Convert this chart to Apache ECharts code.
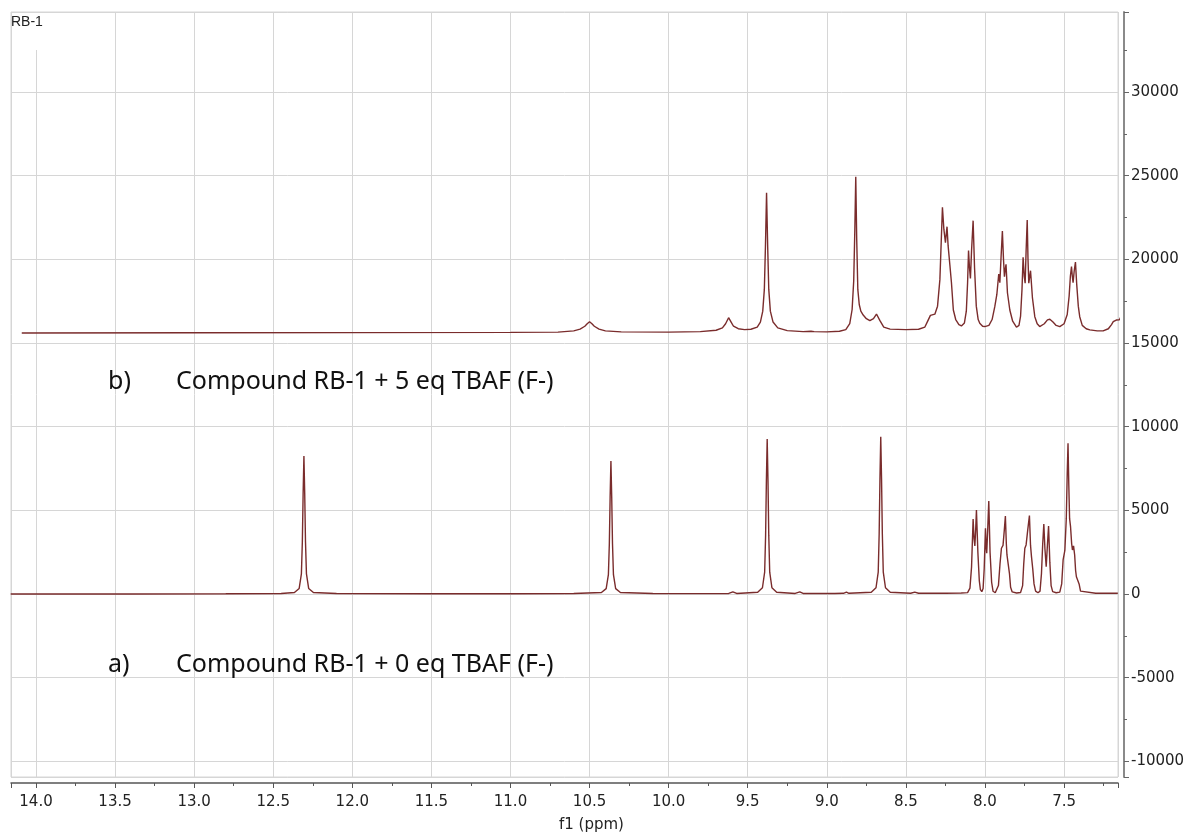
<!DOCTYPE html>
<html>
<head>
<meta charset="utf-8">
<script src="https://cdn.jsdelivr.net/npm/echarts@6/dist/echarts.min.js"></script>
<style>
html,body{margin:0;padding:0;background:#fff;}
#chart{width:1186px;height:834px;}
</style>
</head>
<body>
<div id="chart"></div>
<script>
// ---- data ----
const plotTitle = 'RB-1';
const xAxisName = 'f1 (ppm)';
const labelB = ['b)', 'Compound RB-1 + 5 eq TBAF (F-)'];
const labelA = ['a)', 'Compound RB-1 + 0 eq TBAF (F-)'];
const xRange = [7.159, 14.158];
const yRange = [-10940, 34780];

// spectrum a) : [ppm, intensity]
const spectrumA = [
  [14.16,0],[13.4,0],[12.8,10],[12.45,30],[12.366,90],[12.336,330],[12.322,1200],[12.316,3100],[12.311,6000],[12.306,8250],
  [12.301,6000],[12.296,3100],[12.290,1200],[12.276,330],[12.246,90],[12.1,25],[11.5,10],[11.0,10],[10.6,25],
  [10.425,90],[10.395,320],[10.381,1150],[10.375,3000],[10.370,5800],[10.365,7950],[10.360,5800],[10.355,3000],
  [10.349,1150],[10.335,320],[10.305,90],[10.1,25],[9.8,20],[9.62,30],[9.594,130],[9.57,30],
  [9.437,100],[9.407,370],[9.393,1300],[9.387,3500],[9.382,6800],[9.377,9260],[9.372,6800],[9.367,3500],
  [9.361,1300],[9.347,370],[9.317,100],[9.2,30],[9.171,120],[9.15,30],[8.95,30],[8.895,40],[8.876,110],[8.86,40],
  [8.719,100],[8.689,370],[8.675,1300],[8.669,3600],[8.664,6900],[8.659,9400],[8.654,6900],[8.649,3600],
  [8.643,1300],[8.629,370],[8.599,100],[8.47,40],[8.444,110],[8.42,40],[8.25,40],[8.15,60],
  [8.11,80],[8.095,350],[8.085,1600],[8.075,4480],[8.069,3300],[8.064,2870],[8.059,3800],[8.054,5020],
  [8.045,2500],[8.036,800],[8.029,260],[8.020,140],[8.012,320],[8.005,1500],[7.997,3930],[7.992,2700],
  [7.989,2430],[7.983,3800],[7.976,5560],[7.968,2500],[7.958,700],[7.949,160],[7.935,70],[7.925,130],
  [7.915,500],[7.905,1800],[7.896,2730],[7.886,2900],[7.878,3800],[7.871,4660],[7.865,3000],[7.861,2330],
  [7.852,2230],[7.845,1200],[7.838,400],[7.828,120],[7.80,60],[7.775,90],[7.762,500],[7.755,1800],
  [7.748,2730],[7.740,2930],[7.730,3800],[7.719,4680],[7.712,2900],[7.706,2230],[7.698,1500],[7.690,600],
  [7.680,170],[7.665,70],[7.652,170],[7.643,1200],[7.635,3000],[7.628,4180],[7.621,2700],[7.613,1630],
  [7.606,2800],[7.598,4060],[7.590,1900],[7.582,500],[7.572,140],[7.55,70],[7.527,110],[7.515,600],
  [7.506,2030],[7.495,2600],[7.486,4500],[7.480,7200],[7.475,9000],[7.470,6500],[7.465,4500],[7.459,4020],
  [7.452,3000],[7.447,2630],[7.440,2870],[7.433,2330],[7.427,1400],[7.422,1030],[7.412,940],[7.405,600],
  [7.396,170],[7.385,60],[7.30,40],[7.16,40]
];

// spectrum b) : [ppm, intensity]
const spectrumB = [
  [14.09,15600],[13.0,15610],[12.0,15620],[11.0,15630],[10.70,15650],[10.60,15720],[10.56,15830],[10.53,16000],
  [10.515,16150],[10.50,16270],[10.485,16150],[10.47,16000],[10.44,15830],[10.40,15720],[10.30,15660],[10.0,15650],
  [9.80,15680],[9.70,15760],[9.66,15900],[9.64,16150],[9.621,16510],[9.605,16250],[9.59,16000],[9.56,15850],
  [9.52,15800],[9.48,15820],[9.44,15950],[9.42,16250],[9.405,16900],[9.395,18200],[9.388,20800],[9.381,23980],
  [9.374,20800],[9.367,18200],[9.357,16900],[9.34,16250],[9.31,15900],[9.25,15740],[9.15,15680],[9.10,15700],
  [9.08,15680],[9.0,15660],[8.92,15700],[8.88,15800],[8.855,16150],[8.840,17000],[8.830,18700],[8.823,21700],
  [8.817,24940],[8.811,21200],[8.804,18200],[8.795,17300],[8.785,16900],[8.770,16670],[8.750,16450],[8.728,16330],
  [8.705,16450],[8.686,16730],[8.665,16350],[8.64,15950],[8.60,15830],[8.50,15800],[8.42,15820],[8.38,15950],
  [8.36,16350],[8.345,16650],[8.317,16720],[8.30,17200],[8.285,18800],[8.275,21500],[8.269,23110],[8.260,21800],
  [8.250,20990],[8.245,21500],[8.240,21950],[8.233,20800],[8.222,19660],[8.212,18600],[8.200,16970],[8.185,16400],
  [8.165,16100],[8.149,16020],[8.130,16200],[8.118,16900],[8.110,18600],[8.104,20520],[8.098,19500],[8.092,18860],
  [8.085,20500],[8.075,22310],[8.066,19500],[8.055,17200],[8.043,16400],[8.033,16180],[8.015,16000],[8.001,15980],
  [7.975,16050],[7.955,16400],[7.938,17170],[7.925,17900],[7.913,19120],[7.906,18600],[7.898,20200],[7.890,21690],
  [7.883,20000],[7.877,18960],[7.872,19400],[7.867,19700],[7.858,18000],[7.843,16970],[7.825,16300],[7.801,15940],
  [7.785,16050],[7.775,16600],[7.766,18200],[7.759,20120],[7.752,19000],[7.746,18570],[7.740,20500],[7.733,22350],
  [7.728,20000],[7.723,18570],[7.717,19000],[7.712,19320],[7.700,17700],[7.685,16570],[7.670,16150],[7.654,15980],
  [7.625,16150],[7.605,16380],[7.590,16420],[7.570,16250],[7.550,16050],[7.527,15980],[7.500,16150],[7.480,16700],
  [7.468,17800],[7.460,19000],[7.453,19560],[7.448,19000],[7.443,18600],[7.436,19300],[7.428,19840],[7.420,18500],
  [7.410,17200],[7.401,16570],[7.385,16050],[7.360,15850],[7.337,15780],[7.290,15720],[7.253,15720],[7.220,15850],
  [7.200,16100],[7.189,16270],[7.170,16370],[7.150,16390],[7.125,16850]
];

const lineColor = '#7a2c2c';
const gridColor = '#d6d6d6';
const tickFont = 'DejaVu Sans';
const noteFont = 'Noto Sans';

const chart = echarts.init(document.getElementById('chart'), null, {renderer: 'canvas'});
const noteStyle = {fontFamily: noteFont, fontSize: 25, fontWeight: 'normal', color: '#111'};
chart.setOption({
  animation: false,
  backgroundColor: '#ffffff',
  title: [
    {text: plotTitle, left: 11, top: 15, padding: 0, z: 20,
     textStyle: {fontFamily: 'Liberation Sans', fontSize: 14, fontWeight: 'normal', color: '#222'}},
    {text: labelB[0], left: 108, top: 369, padding: 0, textStyle: noteStyle},
    {text: labelB[1], left: 176, top: 369, padding: 0, textStyle: noteStyle},
    {text: labelA[0], left: 108, top: 652, padding: 0, textStyle: noteStyle},
    {text: labelA[1], left: 176, top: 652, padding: 0, textStyle: noteStyle}
  ],
  graphic: {
    z: 3,
    elements: [
      {type: 'rect', z: 3, silent: true, shape: {x: 34, y: 13, width: 4, height: 37},
       style: {fill: '#ffffff'}}
    ]
  },
  grid: {
    left: 11, right: 68, top: 12, bottom: 57,
    show: true, borderColor: gridColor, borderWidth: 1,
    containLabel: false, outerBoundsMode: 'none'
  },
  xAxis: {
    type: 'value',
    inverse: true,
    min: xRange[0], max: xRange[1],
    minInterval: 0.5, maxInterval: 0.5,
    offset: 6,
    name: xAxisName,
    nameLocation: 'middle',
    nameGap: 35,
    nameTextStyle: {fontFamily: tickFont, fontSize: 15, color: '#222', padding: [0, 0, 0, 54]},
    axisLine: {show: true, onZero: false, lineStyle: {color: '#555', width: 1.5}},
    axisTick: {show: true, length: 5, inside: false, lineStyle: {color: '#555', width: 1}},
    minorTick: {show: true, splitNumber: 2, length: 3, lineStyle: {color: '#555', width: 1}},
    axisLabel: {
      margin: 12, fontFamily: tickFont, fontSize: 15, color: '#222',
      showMinLabel: false, showMaxLabel: false, hideOverlap: false,
      formatter: v => v.toFixed(1)
    },
    splitLine: {show: true, lineStyle: {color: gridColor, width: 1}}
  },
  yAxis: {
    type: 'value',
    position: 'right',
    min: yRange[0], max: yRange[1],
    minInterval: 5000, maxInterval: 5000,
    offset: 6,
    axisLine: {show: true, onZero: false, lineStyle: {color: '#8a8a8a', width: 2}},
    axisTick: {show: true, length: 5, inside: false, lineStyle: {color: '#666', width: 1}},
    minorTick: {show: true, splitNumber: 2, length: 3, lineStyle: {color: '#666', width: 1}},
    axisLabel: {
      margin: 7, fontFamily: tickFont, fontSize: 15, color: '#222',
      showMinLabel: false, showMaxLabel: false, hideOverlap: false,
      formatter: v => String(Math.round(v))
    },
    splitLine: {show: true, lineStyle: {color: gridColor, width: 1}}
  },
  series: [
    {type: 'line', data: spectrumA, showSymbol: false, smooth: false, clip: true,
     lineStyle: {color: lineColor, width: 1.4}, itemStyle: {color: lineColor}},
    {type: 'line', data: spectrumB, showSymbol: false, smooth: false, clip: false,
     lineStyle: {color: lineColor, width: 1.4}, itemStyle: {color: lineColor}}
  ]
});
</script>
</body>
</html>
